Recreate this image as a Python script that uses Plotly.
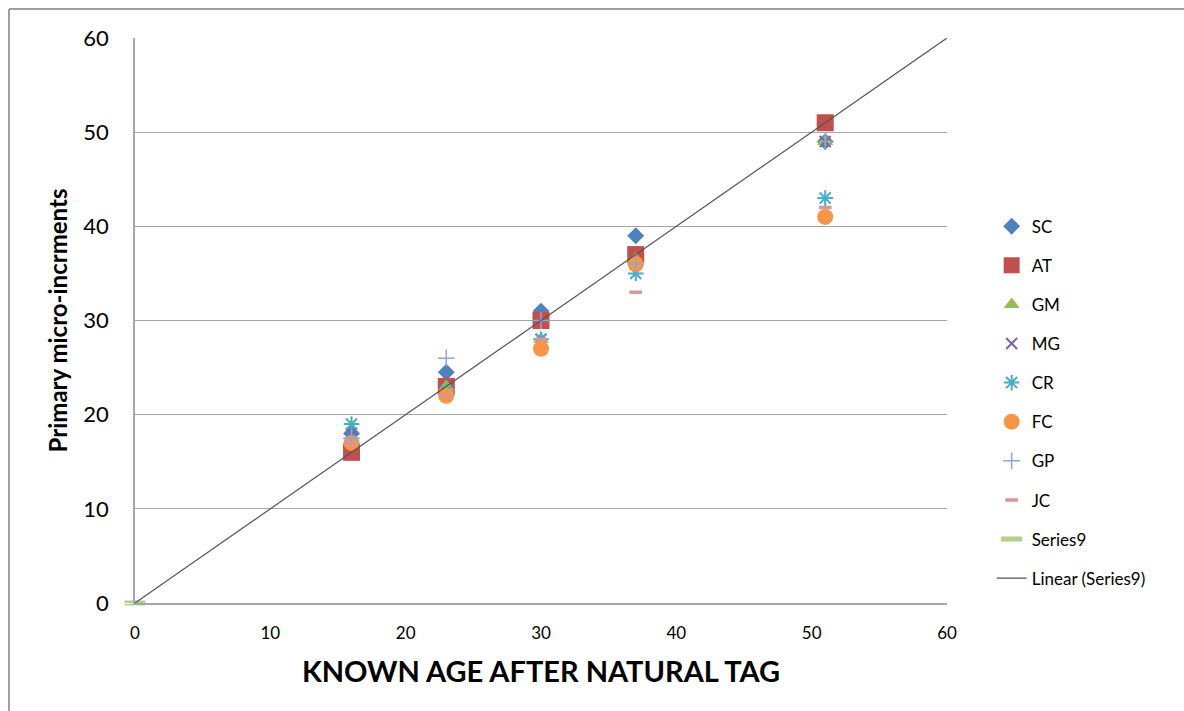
import plotly.graph_objects as go

# Known ages (days after the natural tag) at which otoliths were read
ages = [16, 23, 30, 37, 51]

# Primary micro-increment counts per reader
SC = [18, 24.5, 31, 39, 49]
AT = [16, 23, 30, 37, 51]
GM = [17, 23, 28, 36.5, 49]
MG = [18, 22.5, 28, 36, 49]
CR = [19, 22.5, 28, 35, 43]
FC = [17, 22, 27, 36, 41]
GP = [17.5, 26, 30, 36, 49]
JC = [17, 22, 28, 33, 42]

# Series9 is the single origin point used to anchor the 1:1 trend line
series9_x = [0]
series9_y = [0]
trend_x = [0, 60]
trend_y = [0, 60]

y_ticks = [0, 10, 20, 30, 40, 50, 60]
x_ticks = [0, 10, 20, 30, 40, 50, 60]

series = [
    ("SC", SC, "diamond", "#4F81BD", 13, 0),
    ("AT", AT, "square", "#C0504D", 17, 0),
    ("GM", GM, "triangle-up", "#9BBB59", 14, 0),
    ("MG", MG, "x-thin-open", "#8064A2", 11, 2),
    ("CR", CR, "asterisk-open", "#4BACC6", 13, 2),
    ("FC", FC, "circle", "#F79646", 16, 0),
    ("GP", GP, "cross-thin-open", "#8EA5D8", 12, 1.5),
    ("JC", JC, "line-ew-open", "#D9969A", 9, 3.5),
]

fig = go.Figure()

for name, vals, sym, col, size, lw in series:
    fig.add_trace(go.Scatter(
        x=ages, y=vals, mode="markers", name=name, legendgroup=name,
        marker=dict(symbol=sym, color=col, size=size,
                    line=dict(color=col, width=lw)),
        cliponaxis=False,
    ))

fig.add_trace(go.Scatter(
    x=series9_x, y=series9_y, mode="markers", name="Series9",
    legendgroup="Series9",
    marker=dict(symbol="line-ew-open", color="#B3D08C", size=15,
                line=dict(color="#B3D08C", width=5)),
    cliponaxis=False,
))

fig.add_trace(go.Scatter(
    x=trend_x, y=trend_y, mode="lines", name="Linear (Series9)",
    legendgroup="trend",
    line=dict(color="#555555", width=1.2),
))

font_family = "Lato, 'Open Sans', 'Liberation Sans', sans-serif"

fig.update_layout(
    width=1184, height=711,
    paper_bgcolor="white", plot_bgcolor="white",
    margin=dict(l=135, r=237, t=38, b=108),
    font=dict(family=font_family, color="#000000"),
    showlegend=True,
    legend=dict(
        x=1.055, y=0.698, xanchor="left", yanchor="top",
        font=dict(size=17, family=font_family),
        itemsizing="trace", tracegroupgap=14,
        bgcolor="rgba(0,0,0,0)",
    ),
    xaxis=dict(
        range=[0, 60], tickvals=x_ticks, showgrid=False, zeroline=False,
        showline=True, linecolor="#A6A6A6", linewidth=1.5,
        ticks="outside", ticklen=14, tickcolor="white",
        tickfont=dict(size=17),
        title=dict(text="<b>KNOWN AGE AFTER NATURAL TAG</b>",
                   font=dict(size=29), standoff=20),
    ),
    yaxis=dict(
        range=[0, 60], tickvals=y_ticks, showgrid=True, gridcolor="#A6A6A6",
        gridwidth=1.2, zeroline=False,
        showline=True, linecolor="#A6A6A6", linewidth=1.5,
        ticks="outside", ticklen=20, tickcolor="white",
        tickfont=dict(size=22),
        title=dict(text="<b>Primary micro-incrments</b>",
                   font=dict(size=24), standoff=9),
    ),
    shapes=[
        # outer chart border (top and left edges)
        dict(type="line", xref="paper", yref="paper",
             x0=(9 - 135) / 812, x1=(1184 - 135) / 812,
             y0=(603 - 9) / 565, y1=(603 - 9) / 565,
             line=dict(color="#A0A0A0", width=2)),
        dict(type="line", xref="paper", yref="paper",
             x0=(9 - 135) / 812, x1=(9 - 135) / 812,
             y0=(603 - 9) / 565, y1=(603 - 711) / 565,
             line=dict(color="#A0A0A0", width=2)),
    ],
)

fig.write_html("out.html")
